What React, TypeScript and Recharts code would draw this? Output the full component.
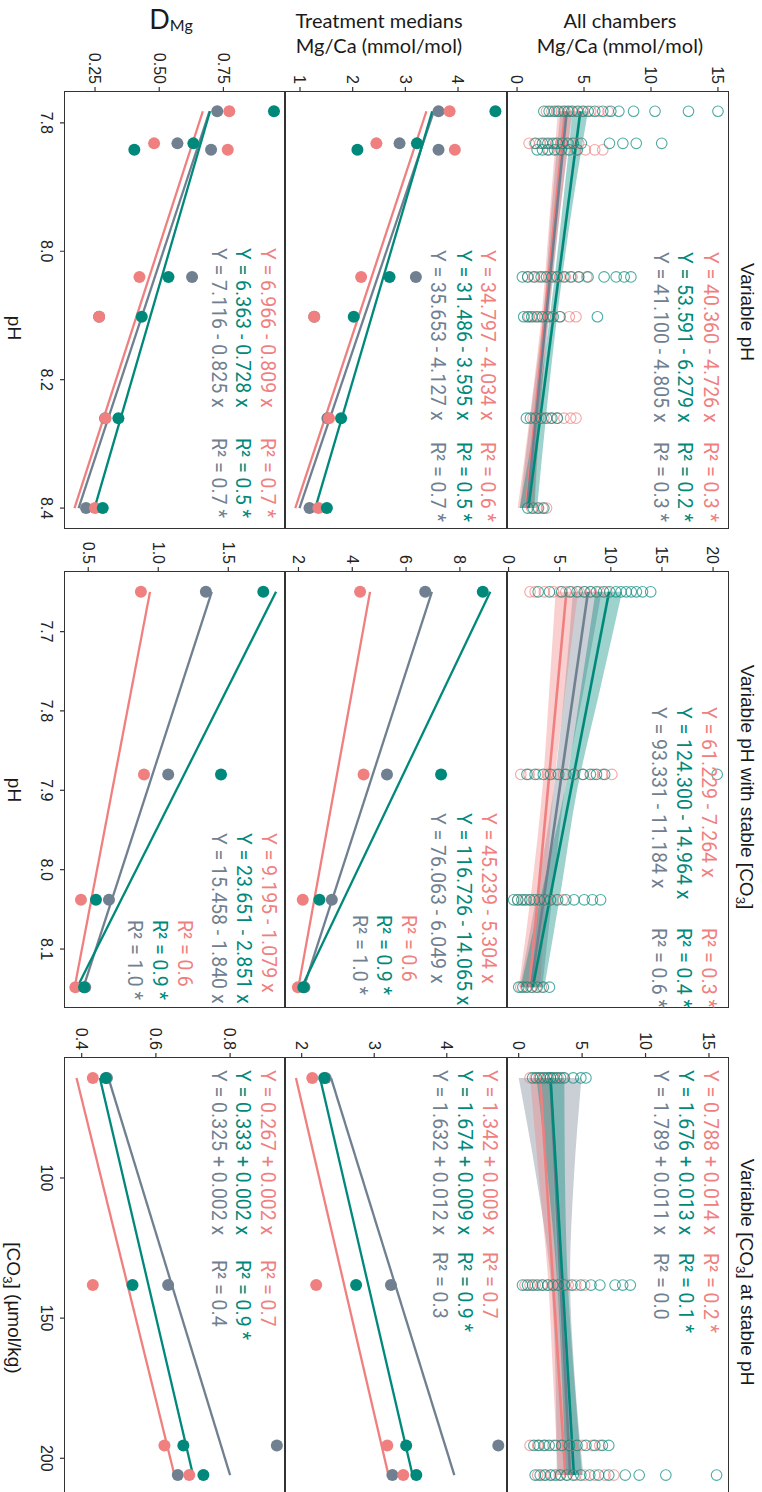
import React from "react";
import { ComposedChart, XAxis, YAxis, Scatter, Line, Area } from "recharts";

const CORAL = "#F08080";
const TEAL = "#00897B";
const GRAY = "#708090";
const SERIES = [CORAL, TEAL, GRAY];
const FONT = "'Liberation Sans', Arial, sans-serif";
const EQ_FONT = "Roboto, 'Liberation Sans', sans-serif";
const TITLE_FONT = "Lato, 'Open Sans', sans-serif";

// treatment levels (x values)
const phLevels = [7.782, 7.832, 7.842, 8.04, 8.102, 8.26, 8.4];
const phStableLevels = [7.65, 7.88, 8.038, 8.148];
const co3Levels = [64.3, 138.2, 195.4, 206];

const phTicks = [7.8, 8.0, 8.2, 8.4];
const phStableTicks = [7.7, 7.8, 7.9, 8.0, 8.1];
const co3Ticks = [100, 150, 200];

// --- All chambers Mg/Ca, one list per treatment ---
const chPhCoral = [
  [2.2, 2.6, 3.0, 3.3, 3.6, 3.9, 4.2, 4.6, 5.0, 5.5, 6.1, 6.8],
  [0.9, 1.3, 1.7, 2.1, 2.5, 2.9, 3.3, 3.7, 4.1, 4.6],
  [2.4, 3.0, 3.6, 4.4, 5.1, 5.8, 6.4],
  [0.8, 1.2, 1.6, 2.0, 2.4, 2.8, 3.2, 3.6, 4.1, 4.6, 5.2],
  [0.9, 1.3, 1.7, 2.1, 2.6, 3.2, 3.9, 4.4],
  [1.2, 1.6, 2.0, 2.5, 3.0, 3.5, 4.0, 4.4],
  [1.1, 1.5, 1.9, 2.2],
];
const chPhTeal = [
  [2.0, 2.4, 2.8, 3.1, 3.5, 3.8, 4.1, 4.5, 4.9, 5.3, 5.8, 6.4, 7.0, 7.6, 8.7, 10.3, 12.8, 15.0],
  [1.4, 1.9, 2.3, 2.7, 3.0, 3.4, 3.8, 4.2, 4.8, 6.9, 7.9, 8.9, 10.8],
  [1.5, 1.9, 2.3, 2.8, 3.3, 3.9, 4.5],
  [0.4, 0.8, 1.3, 1.8, 2.2, 2.6, 3.0, 3.5, 4.0, 4.6, 5.3, 6.5, 7.4, 8.0, 8.5],
  [0.5, 0.8, 1.1, 1.5, 1.9, 2.3, 2.7, 3.2, 6.0],
  [0.7, 1.0, 1.4, 1.8, 2.2, 2.6, 3.0],
  [0.8, 1.2, 1.6, 2.0],
];
const chPhsCoral = [
  [2.1, 2.6, 3.5, 4.4, 5.0, 5.6, 6.2, 6.9, 7.5, 8.1, 8.9, 9.6],
  [1.2, 2.0, 2.9, 3.8, 4.6, 5.4, 6.3, 7.2, 8.3, 9.2, 10.1],
  [0.9, 1.5, 2.1, 2.7, 3.3, 3.9, 4.6, 5.3],
  [1.2, 1.7, 2.2, 2.7, 3.2],
];
const chPhsTeal = [
  [2.9, 4.0, 5.2, 6.0, 6.7, 7.4, 8.0, 8.6, 9.3, 9.9, 10.5, 11.0, 11.5, 12.0, 12.5, 13.1, 13.9],
  [1.8, 2.6, 3.4, 4.1, 4.9, 5.6, 6.4, 7.3, 8.0, 8.6, 9.4, 20.4],
  [0.5, 0.9, 1.3, 1.7, 2.1, 2.5, 3.0, 3.5, 4.1, 4.8, 5.6, 6.4, 7.4, 8.2, 9.0],
  [1.0, 1.4, 1.8, 2.3, 2.8, 3.4, 4.0],
];
const chCo3Coral = [
  [0.9, 1.3, 1.6, 1.9, 2.2, 2.5, 2.8, 3.1, 3.5],
  [0.5, 0.9, 1.3, 1.8, 2.3, 2.8, 3.3, 3.9, 4.5, 5.2],
  [0.9, 1.5, 2.1, 2.7, 3.4, 4.2, 5.0, 5.8, 6.4],
  [1.5, 2.0, 2.6, 3.2, 3.8, 4.5, 5.2, 6.0, 6.8, 7.5],
];
const chCo3Teal = [
  [1.1, 1.4, 1.7, 2.0, 2.3, 2.5, 2.7, 3.0, 3.3, 3.6, 4.3, 4.9, 5.3],
  [0.3, 0.7, 1.1, 1.5, 1.9, 2.3, 2.7, 3.1, 3.6, 4.2, 4.9, 5.7, 6.4, 7.6, 8.2, 8.8],
  [1.2, 1.6, 2.0, 2.4, 2.9, 3.4, 4.0, 4.6, 5.3, 6.0, 6.6, 7.1],
  [1.3, 1.7, 2.1, 2.5, 2.9, 3.3, 3.8, 4.3, 4.9, 5.6, 6.3, 7.1, 8.4, 9.5, 11.6, 15.6],
];

// --- confidence bands of the all-chamber fits: [low, high] at bandX ---
const bandPhX = [7.782, 7.94, 8.09, 8.25, 8.4];
const bandPhCoral = [[3.05, 4.1], [2.45, 3.2], [1.88, 2.38], [1.0, 1.75], [0.05, 1.3]];
const bandPhTeal = [[4.15, 5.3], [3.35, 4.05], [2.52, 3.06], [1.45, 2.2], [0.2, 1.5]];
const bandPhGray = [[3.25, 4.17], [2.55, 3.2], [2.0, 2.45], [1.05, 1.7], [0.2, 1.28]];

const bandPhsX = [7.65, 7.77, 7.9, 8.02, 8.148];
const bandPhsCoral = [[4.6, 6.8], [4.0, 5.6], [3.3, 4.4], [2.3, 3.7], [1.0, 3.1]];
const bandPhsTeal = [[8.5, 11.1], [7.1, 9.0], [5.5, 6.7], [3.4, 5.2], [1.2, 3.5]];
const bandPhsGray = [[6.3, 9.1], [5.5, 7.4], [4.4, 5.5], [2.9, 4.4], [1.1, 3.3]];

const bandCo3X = [64.3, 100, 135, 170, 206];
const bandCo3Coral = [[0.9, 2.5], [1.6, 2.75], [2.3, 3.05], [2.7, 3.6], [3.1, 4.25]];
const bandCo3Teal = [[1.4, 3.6], [2.3, 3.65], [3.0, 3.85], [3.4, 4.35], [3.7, 5.0]];
const bandCo3Gray = [[0.0, 4.95], [1.4, 4.35], [2.5, 4.05], [2.9, 4.4], [3.0, 5.1]];

// --- treatment medians Mg/Ca ---
const medPhCoral = [3.84, 2.45, 3.94, 2.16, 1.27, 1.55, 1.35];
const medPhTeal = [4.71, 3.22, 2.09, 2.7, 2.02, 1.78, 1.51];
const medPhGray = [3.63, 2.89, 3.63, 3.2, 1.27, 1.52, 1.18];
const medPhsCoral = [4.29, 4.42, 2.16, 1.98];
const medPhsTeal = [8.85, 7.3, 2.78, 2.18];
const medPhsGray = [6.71, 5.29, 3.24, 2.22];
const medCo3Coral = [2.146, 2.2, 3.18, 3.4];
const medCo3Teal = [2.31, 2.75, 3.44, 3.58];
const medCo3Gray = [2.33, 3.23, 4.71, 3.25];

// --- D_Mg ---
const dPhCoral = [0.773, 0.48, 0.767, 0.423, 0.266, 0.291, 0.25];
const dPhTeal = [0.947, 0.633, 0.403, 0.536, 0.432, 0.341, 0.28];
const dPhGray = [0.726, 0.571, 0.702, 0.628, 0.266, 0.289, 0.215];
const dPhsCoral = [0.876, 0.898, 0.448, 0.408];
const dPhsTeal = [1.75, 1.448, 0.555, 0.47];
const dPhsGray = [1.34, 1.071, 0.648, 0.478];
const dCo3Coral = [0.43, 0.43, 0.623, 0.69];
const dCo3Teal = [0.465, 0.537, 0.674, 0.728];
const dCo3Gray = [0.468, 0.633, 0.926, 0.659];

// --- fitted lines: value at first and last treatment ---
const fitR1C1 = [[3.58, 0.66], [4.73, 0.85], [3.71, 0.74]];
const fitR2C1 = [[3.4, 0.91], [3.51, 1.29], [3.54, 0.99]];
const fitR3C1 = [[0.67, 0.17], [0.698, 0.248], [0.696, 0.186]];
const fitR1C2 = [[5.66, 2.04], [9.83, 2.37], [7.77, 2.2]];
const fitR2C2 = [[4.66, 2.0], [9.13, 2.12], [6.96, 2.2]];
const fitR3C2 = [[0.941, 0.403], [1.841, 0.421], [1.382, 0.466]];
const fitR1C3 = [[1.688, 3.672], [2.512, 4.354], [2.496, 4.055]];
const fitR2C3 = [[1.921, 3.196], [2.253, 3.528], [2.404, 4.104]];
const fitR3C3 = [[0.386, 0.65], [0.449, 0.7], [0.472, 0.8]];

// --- equation labels ---
const eqR1C1 = ["Y = 40.360 - 4.726 x", "Y = 53.591 - 6.279 x", "Y = 41.100 - 4.805 x"];
const r2R1C1 = ["R² = 0.3 *", "R² = 0.2 *", "R² = 0.3 *"];
const eqR2C1 = ["Y = 34.797 - 4.034 x", "Y = 31.486 - 3.595 x", "Y = 35.653 - 4.127 x"];
const r2R2C1 = ["R² = 0.6 *", "R² = 0.5 *", "R² = 0.7 *"];
const eqR3C1 = ["Y = 6.966 - 0.809 x", "Y = 6.363 - 0.728 x", "Y = 7.116 - 0.825 x"];
const r2R3C1 = ["R² = 0.7 *", "R² = 0.5 *", "R² = 0.7 *"];
const eqR1C2 = ["Y = 61.229 - 7.264 x", "Y = 124.300 - 14.964 x", "Y = 93.331 - 11.184 x"];
const r2R1C2 = ["R² = 0.3 *", "R² = 0.4 *", "R² = 0.6 *"];
const eqR2C2 = ["Y = 45.239 - 5.304 x", "Y = 116.726 - 14.065 x", "Y = 76.063 - 6.049 x"];
const r2R2C2 = ["R² = 0.6", "R² = 0.9 *", "R² = 1.0 *"];
const eqR3C2 = ["Y = 9.195 - 1.079 x", "Y = 23.651 - 2.851 x", "Y = 15.458 - 1.840 x"];
const r2R3C2 = ["R² = 0.6", "R² = 0.9 *", "R² = 1.0 *"];
const eqR1C3 = ["Y = 0.788 + 0.014 x", "Y = 1.676 + 0.013 x", "Y = 1.789 + 0.011 x"];
const r2R1C3 = ["R² = 0.2 *", "R² = 0.1 *", "R² = 0.0"];
const eqR2C3 = ["Y = 1.342 + 0.009 x", "Y = 1.674 + 0.009 x", "Y = 1.632 + 0.012 x"];
const r2R2C3 = ["R² = 0.7", "R² = 0.9 *", "R² = 0.3"];
const eqR3C3 = ["Y = 0.267 + 0.002 x", "Y = 0.333 + 0.002 x", "Y = 0.325 + 0.002 x"];
const r2R3C3 = ["R² = 0.7", "R² = 0.9 *", "R² = 0.4"];

type Pt = { x: number; y: number };
type Band = { x: number; band: number[] };

const toPts = (xs: number[], ys: number[]): Pt[] => xs.map((x, i) => ({ x, y: ys[i] }));
const toCloud = (xs: number[], groups: number[][]): Pt[] =>
  xs.flatMap((x, i) => groups[i].map((y) => ({ x, y })));
const toBand = (xs: number[], b: number[][]): Band[] => xs.map((x, i) => ({ x, band: b[i] }));
const toFits = (xs: number[], fits: number[][]): Pt[][] =>
  fits.map((f) => [{ x: xs[0], y: f[0] }, { x: xs[xs.length - 1], y: f[1] }]);

const f1 = (v: number) => v.toFixed(1);
const f2 = (v: number) => v.toFixed(2);
const f0 = (v: number) => String(v);

// layout of the unrotated figure (it is turned 90deg clockwise on the page)
const W = 1492;
const H = 762;
const COLS = [
  [92, 528],
  [572, 1007],
  [1058, 1495],
];
const ROWS = [
  [34, 255],
  [255, 477],
  [477, 697],
];
const YW = 60;

type PanelProps = {
  col: number;
  row: number;
  xDomain: number[];
  xTicks: number[];
  xFmt: (v: number) => string;
  yDomain: number[];
  yTicks: number[];
  yFmt: (v: number) => string;
  open?: Pt[][];
  bands?: Band[][];
  filled?: Pt[][];
  fits: Pt[][];
};

function Panel(p: PanelProps) {
  const [x0, x1] = COLS[p.col];
  const [y0, y1] = ROWS[p.row];
  const labels = p.row === 2;
  const xh = labels ? 50 : 8;
  const tickStyle = { fontSize: 16, fill: "#222", fontFamily: FONT };
  return (
    <div style={{ position: "absolute", left: x0 - YW, top: y0 }}>
      <ComposedChart
        width={x1 - x0 + YW}
        height={y1 - y0 + xh}
        margin={{ top: 0, right: 0, bottom: 0, left: 0 }}
      >
        <XAxis
          type="number"
          dataKey="x"
          domain={p.xDomain}
          ticks={p.xTicks}
          interval={0}
          allowDataOverflow
          height={xh}
          axisLine={false}
          tickLine={{ stroke: "#333", strokeWidth: 1.2 }}
          tickSize={5}
          tickMargin={8}
          tick={labels ? tickStyle : false}
          tickFormatter={p.xFmt}
        />
        <YAxis
          type="number"
          domain={p.yDomain}
          ticks={p.yTicks}
          interval={0}
          allowDataOverflow
          width={YW}
          axisLine={false}
          tickLine={{ stroke: "#333", strokeWidth: 1.2 }}
          tickSize={5}
          tickMargin={3}
          tick={tickStyle}
          tickFormatter={p.yFmt}
        />
        {(p.open || []).map((pts, i) => (
          <Scatter
            key={"o" + i}
            data={pts}
            dataKey="y"
            isAnimationActive={false}
            shape={(s: any) => (
              <circle
                cx={s.cx}
                cy={s.cy}
                r={5.3}
                fill="none"
                stroke={SERIES[i]}
                strokeOpacity={0.7}
                strokeWidth={1.1}
              />
            )}
          />
        ))}
        {(p.bands || []).map((b, i) => (
          <Area
            key={"b" + i}
            data={b}
            dataKey="band"
            type="monotone"
            stroke="none"
            fill={SERIES[[2, 0, 1][i]]}
            fillOpacity={0.38}
            isAnimationActive={false}
          />
        ))}
        {(p.filled || []).map((pts, i) => (
          <Scatter
            key={"f" + i}
            data={pts}
            dataKey="y"
            isAnimationActive={false}
            shape={(s: any) => <circle cx={s.cx} cy={s.cy} r={6} fill={SERIES[[2, 0, 1][i]]} />}
          />
        ))}
        {[0, 2, 1].map((k) => (
          <Line
            key={"l" + k}
            data={p.fits[k]}
            dataKey="y"
            stroke={SERIES[k]}
            strokeWidth={p.row === 0 ? 2.6 : 2.3}
            dot={false}
            isAnimationActive={false}
          />
        ))}
      </ComposedChart>
      <div
        style={{
          position: "absolute",
          left: YW - 1,
          top: -1,
          width: x1 - x0 + 2,
          height: y1 - y0 + 2,
          border: "1.5px solid #333",
          boxSizing: "border-box",
          pointerEvents: "none",
        }}
      />
    </div>
  );
}

type EqProps = { eqs: string[]; r2: string[]; x: number; ys: number[]; r2x: number; r2ys?: number[] };

function Eq({ eqs, r2, x, ys, r2x, r2ys }: EqProps) {
  const ry = r2ys || ys;
  return (
    <g fontFamily={EQ_FONT} fontSize={19.5} dominantBaseline="central">
      {eqs.map((t, i) => (
        <text key={"e" + i} x={x} y={ys[i]} fill={SERIES[i]} style={{ whiteSpace: "pre" }}>
          {t}
        </text>
      ))}
      {r2.map((t, i) => (
        <text key={"r" + i} x={r2x} y={ry[i]} fill={SERIES[i]}>
          {t}
        </text>
      ))}
    </g>
  );
}

function Co3({ size }: { size: number }) {
  return (
    <>
      <tspan>[CO</tspan>
      <tspan fontSize={size * 0.7} dy={size * 0.3}>
        3
      </tspan>
      <tspan dy={-size * 0.3}>]</tspan>
    </>
  );
}

export default function App() {
  const chPh = [toCloud(phLevels, chPhCoral), toCloud(phLevels, chPhTeal)];
  const chPhs = [toCloud(phStableLevels, chPhsCoral), toCloud(phStableLevels, chPhsTeal)];
  const chCo3 = [toCloud(co3Levels, chCo3Coral), toCloud(co3Levels, chCo3Teal)];

  return (
    <div
      style={{
        position: "absolute",
        left: 0,
        top: 0,
        width: W,
        height: H,
        background: "#fff",
        overflow: "hidden",
        transform: `translate(${H}px, 0px) rotate(90deg)`,
        transformOrigin: "0 0",
      }}
    >
      {/* Variable pH */}
      <Panel
        col={0} row={0}
        xDomain={[7.752, 8.431]} xTicks={phTicks} xFmt={f1}
        yDomain={[-0.75, 15.75]} yTicks={[0, 5, 10, 15]} yFmt={f0}
        open={chPh}
        bands={[toBand(bandPhX, bandPhGray), toBand(bandPhX, bandPhCoral), toBand(bandPhX, bandPhTeal)]}
        fits={toFits(phLevels, fitR1C1)}
      />
      <Panel
        col={0} row={1}
        xDomain={[7.752, 8.431]} xTicks={phTicks} xFmt={f1}
        yDomain={[0.715, 4.93]} yTicks={[1, 2, 3, 4]} yFmt={f0}
        filled={[toPts(phLevels, medPhGray), toPts(phLevels, medPhCoral), toPts(phLevels, medPhTeal)]}
        fits={toFits(phLevels, fitR2C1)}
      />
      <Panel
        col={0} row={2}
        xDomain={[7.752, 8.431]} xTicks={phTicks} xFmt={f1}
        yDomain={[0.133, 0.99]} yTicks={[0.25, 0.5, 0.75]} yFmt={f2}
        filled={[toPts(phLevels, dPhGray), toPts(phLevels, dPhCoral), toPts(phLevels, dPhTeal)]}
        fits={toFits(phLevels, fitR3C1)}
      />
      {/* Variable pH with stable CO3 */}
      <Panel
        col={1} row={0}
        xDomain={[7.625, 8.173]} xTicks={phStableTicks} xFmt={f1}
        yDomain={[-0.15, 21.46]} yTicks={[0, 5, 10, 15, 20]} yFmt={f0}
        open={chPhs}
        bands={[toBand(bandPhsX, bandPhsGray), toBand(bandPhsX, bandPhsCoral), toBand(bandPhsX, bandPhsTeal)]}
        fits={toFits(phStableLevels, fitR1C2)}
      />
      <Panel
        col={1} row={1}
        xDomain={[7.625, 8.173]} xTicks={phStableTicks} xFmt={f1}
        yDomain={[1.5, 9.75]} yTicks={[2, 4, 6, 8]} yFmt={f0}
        filled={[toPts(phStableLevels, medPhsGray), toPts(phStableLevels, medPhsCoral), toPts(phStableLevels, medPhsTeal)]}
        fits={toFits(phStableLevels, fitR2C2)}
      />
      <Panel
        col={1} row={2}
        xDomain={[7.625, 8.173]} xTicks={phStableTicks} xFmt={f1}
        yDomain={[0.334, 1.905]} yTicks={[0.5, 1.0, 1.5]} yFmt={f1}
        filled={[toPts(phStableLevels, dPhsGray), toPts(phStableLevels, dPhsCoral), toPts(phStableLevels, dPhsTeal)]}
        fits={toFits(phStableLevels, fitR3C2)}
      />
      {/* Variable CO3 at stable pH */}
      <Panel
        col={2} row={0}
        xDomain={[57.2, 213.1]} xTicks={co3Ticks} xFmt={f0}
        yDomain={[-0.92, 16.5]} yTicks={[0, 5, 10, 15]} yFmt={f0}
        open={chCo3}
        bands={[toBand(bandCo3X, bandCo3Gray), toBand(bandCo3X, bandCo3Coral), toBand(bandCo3X, bandCo3Teal)]}
        fits={toFits(co3Levels, fitR1C3)}
      />
      <Panel
        col={2} row={1}
        xDomain={[57.2, 213.1]} xTicks={co3Ticks} xFmt={f0}
        yDomain={[1.77, 4.83]} yTicks={[2, 3, 4]} yFmt={f0}
        filled={[toPts(co3Levels, medCo3Gray), toPts(co3Levels, medCo3Coral), toPts(co3Levels, medCo3Teal)]}
        fits={toFits(co3Levels, fitR2C3)}
      />
      <Panel
        col={2} row={2}
        xDomain={[57.2, 213.1]} xTicks={co3Ticks} xFmt={f0}
        yDomain={[0.355, 0.948]} yTicks={[0.4, 0.6, 0.8]} yFmt={f1}
        filled={[toPts(co3Levels, dCo3Gray), toPts(co3Levels, dCo3Coral), toPts(co3Levels, dCo3Teal)]}
        fits={toFits(co3Levels, fitR3C3)}
      />

      <svg
        width={W}
        height={H}
        style={{ position: "absolute", left: 0, top: 0, pointerEvents: "none" }}
      >
        {/* column titles and x axis titles */}
        <g fontFamily={FONT} fontSize={19} fill="#1a1a1a" textAnchor="middle" dominantBaseline="central">
          <text x={312} y={15}>Variable pH</text>
          <text x={787} y={15}>
            Variable pH with stable <Co3 size={19} />
          </text>
          <text x={1272} y={15}>
            Variable <Co3 size={19} /> at stable pH
          </text>
          <text x={328} y={748}>pH</text>
          <text x={790} y={748}>pH</text>
          <text x={1308} y={748}>
            <Co3 size={19} /> (µmol/kg)
          </text>
        </g>
        {/* row titles */}
        <g fontFamily={TITLE_FONT} fontSize={20} fill="#1a1a1a" textAnchor="middle" dominantBaseline="central">
          <text transform="translate(20,142) rotate(-90)">All chambers</text>
          <text transform="translate(45,142) rotate(-90)">Mg/Ca (mmol/mol)</text>
          <text transform="translate(20,383) rotate(-90)">Treatment medians</text>
          <text transform="translate(45,383) rotate(-90)">Mg/Ca (mmol/mol)</text>
          <text transform="translate(18,591) rotate(-90)">
            <tspan fontSize={27}>D</tspan>
            <tspan fontSize={16} dy={6}>Mg</tspan>
          </text>
        </g>
        <Eq eqs={eqR1C1} r2={r2R1C1} x={252} ys={[52, 78, 102]} r2x={442} />
        <Eq eqs={eqR2C1} r2={r2R2C1} x={250} ys={[275, 299, 325]} r2x={442} />
        <Eq eqs={eqR3C1} r2={r2R3C1} x={248} ys={[495, 520, 544]} r2x={438} />
        <Eq eqs={eqR1C2} r2={r2R1C2} x={707} ys={[54, 79, 104]} r2x={928} />
        <Eq eqs={eqR2C2} r2={r2R2C2} x={813} ys={[274, 299, 325]} r2x={915} r2ys={[354, 379, 403]} />
        <Eq eqs={eqR3C2} r2={r2R3C2} x={833} ys={[494, 519, 544]} r2x={920} r2ys={[578, 603, 628]} />
        <Eq eqs={eqR1C3} r2={r2R1C3} x={1070} ys={[52, 77, 102]} r2x={1253} />
        <Eq eqs={eqR2C3} r2={r2R2C3} x={1070} ys={[273, 298, 323]} r2x={1252} />
        <Eq eqs={eqR3C3} r2={r2R3C3} x={1070} ys={[495, 520, 544]} r2x={1260} />
      </svg>
    </div>
  );
}
